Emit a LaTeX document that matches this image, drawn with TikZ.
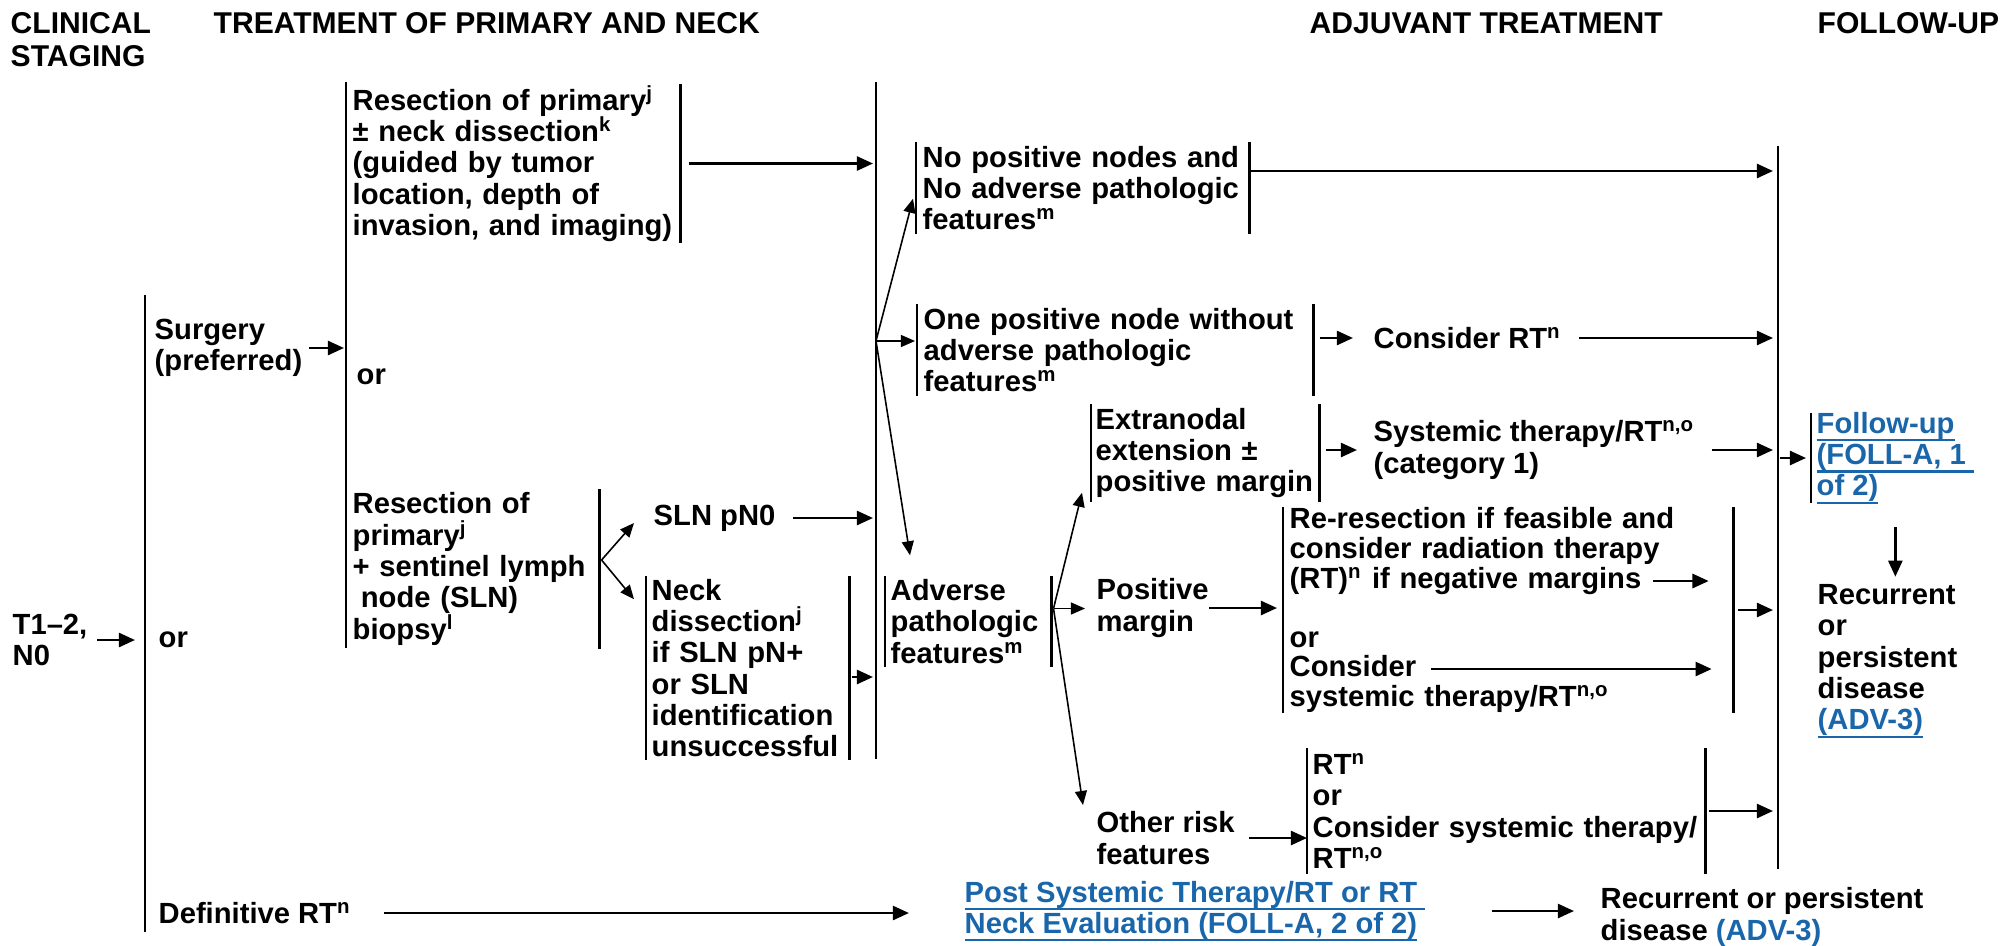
\documentclass[tikz,border=0pt]{standalone}
\usepackage{fontspec}
\setmainfont{Liberation Sans}
\usetikzlibrary{arrows.meta,calc}
\definecolor{linkblue}{HTML}{1A66AA}
\newcommand\sups[1]{\textsuperscript{#1}}
\newcommand\lnk[1]{\leavevmode\setbox0=\hbox{#1}\rlap{\vrule width\wd0 height -0.2em depth 0.27em}\box0}
\tikzset{
  txt/.style={font=\fontsize{8.3pt}{8.9pt}\selectfont\bfseries, align=left, anchor=west, inner sep=0pt},
  head/.style={txt, font=\fontsize{8.55pt}{9.3pt}\selectfont\bfseries},
  box/.style={txt, inner xsep=0.6mm},
  bar/.style={line width=0.7pt},
  arr/.style={line width=0.75pt, -{Triangle[length=4.6pt,width=4pt]}},
  farr/.style={line width=0.45pt, -{Triangle[length=4pt,width=3.4pt]}},
}
\begin{document}
\begin{tikzpicture}[x=0.01cm,y=-0.01cm]
\useasboundingbox (0,0) rectangle (2003,945);

% headings
\node[head] (hclin) at (10,39.5) {CLINICAL\\STAGING};
\node[head] (htreat) at (213,23) {TREATMENT OF PRIMARY AND NECK};
\node[head] (hadj) at (1309,23) {ADJUVANT TREATMENT};
\node[head] (hfoll) at (1817,23) {FOLLOW-UP};

% column lines
\draw[bar] (145,295) coordinate (col1) -- (145,932);
\draw[bar] (346,82) coordinate (col2) -- (346,648);
\draw[bar] (876,82) coordinate (col3) -- (876,759);
\draw[bar] (1778,146) coordinate (col4) -- (1778,869);

% staging and primary treatment
\node[txt] (stage) at (12,640) {T1–2,\\N0};
\node[txt] (surg) at (154,348) {Surgery\\(preferred)};
\node[txt] (or1) at (158,640) {or};
\node[txt] (defrt) at (158,913) {Definitive RT\sups{n}};

\node[box, text width=32.1mm, minimum height=15.7mm] (res1) at (346,163.5) {Resection of primary\sups{j}\\± neck dissection\sups{k}\\(guided by tumor\\location, depth of\\invasion, and imaging)};
\node[txt] (or2) at (356,377) {or};
\node[box, text width=24mm, minimum height=15.8mm] (res2) at (346,569) {Resection of\\primary\sups{j}\\+ sentinel lymph\\\hspace*{.28em}node (SLN)\\biopsy\sups{l}};
\node[txt] (sln0) at (653,518) {SLN pN0};
\node[box, inner xsep=0.5mm, text width=19.2mm, minimum height=18.2mm] (neck) at (646,668) {Neck\\dissection\sups{j}\\if SLN pN+\\or SLN\\identification\\unsuccessful};

% adjuvant treatment
\node[box, text width=32mm, minimum height=9mm] (nopos) at (916,188) {No positive nodes and\\No adverse pathologic\\features\sups{m}};
\node[box, text width=38.3mm, minimum height=9mm] (onepos) at (917,350) {One positive node without\\adverse pathologic\\features\sups{m}};
\node[box, inner xsep=0.5mm, text width=15.5mm, minimum height=8.9mm] (adv) at (885,621.5) {Adverse\\pathologic\\features\sups{m}};
\node[txt] (consrt) at (1373,338) {Consider RT\sups{n}};
\node[box, inner xsep=0.4mm, text width=21.9mm, minimum height=9.6mm] (extra) at (1091,453) {Extranodal\\extension ±\\positive margin};
\node[txt] (sysrt) at (1373,450) {Systemic therapy/RT\sups{n,o}\\(category 1)};
\node[txt] (posm) at (1096,608) {Positive\\margin};
\node[box, text width=43.7mm, minimum height=20.2mm, font=\fontsize{8.3pt}{8.4pt}\selectfont\bfseries] (reres) at (1283,610) {Re-resection if feasible and\\consider radiation therapy\\(RT)\sups{n} if negative margins\\[8.4pt]or\\Consider\\systemic therapy/RT\sups{n,o}};
\node[txt] (other) at (1096,838) {Other risk\\features};
\node[box, inner xsep=0.5mm, text width=38.7mm, minimum height=12.4mm] (rtbox) at (1307,811) {RT\sups{n}\\or\\Consider systemic therapy/\\RT\sups{n,o}};

% follow-up
\node[box, inner xsep=0.5mm, inner ysep=-1.5pt, minimum height=8.9mm, text=linkblue] (follow) at (1811,458) {\lnk{Follow-up}\\\lnk{(FOLL-A, 1\ }\\\lnk{of 2)}};
\node[txt] (recur) at (1817,661) {Recurrent\\or\\persistent\\disease\\\textcolor{linkblue}{\lnk{(ADV-3)}}};
\node[txt, text=linkblue] (post) at (964,911) {\lnk{Post Systemic Therapy/RT or RT\ }\\\lnk{Neck Evaluation (FOLL-A, 2 of 2)}};
\node[txt] (recur2) at (1600,917) {Recurrent or persistent\\disease \textcolor{linkblue}{(ADV-3)}};

% bars of the boxes
\foreach \b in {neck,nopos,onepos,adv,extra,reres,rtbox}
  \draw[bar] (\b.north west) -- (\b.south west) (\b.north east) -- (\b.south east);
\foreach \b in {res1,res2}
  \draw[bar] (\b.north east) -- (\b.south east);
\draw[bar] (follow.north west) -- (follow.south west);

% arrows
\draw[arr, shorten <=0.9mm, shorten >=1mm] (stage.east) -- (stage.east -| col1);
\draw[arr, shorten <=0.6mm, shorten >=0.2mm] (surg.east) -- (surg.east -| col2);
\draw[arr, shorten <=3.2mm, shorten >=5.5mm] (defrt.east) -- (post.west |- defrt.east);
\draw[arr, shorten <=0.8mm, shorten >=0.3mm] (res1.east) -- (res1.east -| col3);

\coordinate (fk1) at ($(res2.east)+(2,-9)$);
\draw[farr] (fk1) -- ($(sln0.west)+(-19,5)$);
\draw[farr] (fk1) -- ($(neck.north west)+(-12,23)$);
\draw[arr, shorten <=1.7mm, shorten >=0.3mm] (sln0.east) -- (sln0.east -| col3);
\coordinate (nk) at ($(neck.east)+(0,9)$);
\draw[arr, shorten <=0.2mm, shorten >=0.3mm] (nk) -- (nk -| col3);

\coordinate (fk2) at (876,341);
\draw[farr] (fk2) -- ($(nopos.south west)+(-3,-35)$);
\draw[farr, shorten >=0.2mm] (fk2) -- (fk2 -| onepos.west);
\draw[farr] (fk2) -- ($(adv.north west)+(25,-21)$);

\coordinate (np) at ($(nopos.east)+(0,-17)$);
\draw[arr, shorten >=0.5mm] (np) -- (np -| col4);
\draw[arr, shorten <=0.6mm, shorten >=2mm] (consrt.west -| onepos.east) -- (consrt.west);
\draw[arr, shorten <=1.7mm, shorten >=0.5mm] (consrt.east) -- (consrt.east -| col4);

\coordinate (fk3) at ($(adv.east)+(2,-13)$);
\draw[farr] (fk3) -- ($(extra.south west)+(-9,-9)$);
\draw[farr, shorten >=1.1mm] (fk3) -- (fk3 -| posm.west);
\draw[farr] (fk3) -- ($(other.west)+(-13,-33)$);

\draw[arr, shorten <=0.6mm, shorten >=1.6mm] (sysrt.west -| extra.east) -- (sysrt.west);
\draw[arr, shorten <=1.6mm, shorten >=0.5mm] (sysrt.east) -- (sysrt.east -| col4);
\draw[arr, shorten >=0.6mm] (posm.east) -- (posm.east -| reres.west);
\coordinate (rrA) at (1653,581);
\coordinate (rrB) at (1431,669);
\draw[arr, shorten >=2.5mm] (rrA) -- (rrA -| reres.east);
\draw[arr, shorten >=2.2mm] (rrB) -- (rrB -| reres.east);
\draw[arr, shorten <=0.4mm, shorten >=0.5mm] (reres.east) -- (reres.east -| col4);
\draw[arr, shorten <=1.4mm] (other.east) -- (other.east -| rtbox.west);
\draw[arr, shorten <=0.3mm, shorten >=0.5mm] (rtbox.east) -- (rtbox.east -| col4);

\draw[arr, shorten <=0.2mm, shorten >=0.5mm] (follow.west -| col4) -- (follow.west);
\draw[arr, shorten <=2.4mm, shorten >=0.7mm] (follow.south) -- (follow.south |- recur.north);
\draw[arr, shorten <=6.6mm, shorten >=2.6mm] (post.east) -- (post.east -| recur2.west);
\end{tikzpicture}
\end{document}
